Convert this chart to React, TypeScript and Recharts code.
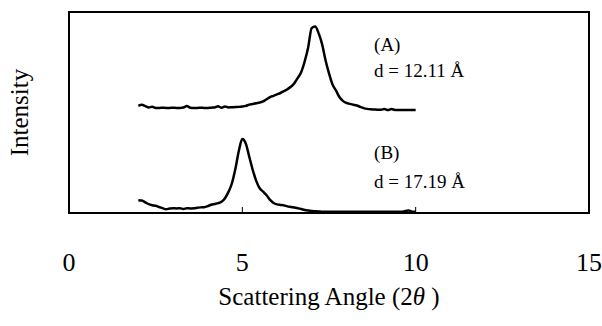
import { LineChart, Line, XAxis, YAxis, ReferenceArea, ReferenceLine, ReferenceDot } from "recharts";

const angles = [
  2.0, 2.1, 2.2, 2.3, 2.4, 2.5, 2.6, 2.7, 2.8, 2.9,
  3.0, 3.1, 3.2, 3.3, 3.4, 3.5, 3.6, 3.7, 3.8, 3.9,
  4.0, 4.1, 4.2, 4.3, 4.4, 4.5, 4.6, 4.7, 4.8, 4.9,
  5.0, 5.1, 5.2, 5.3, 5.4, 5.5, 5.6, 5.7, 5.8, 5.9,
  6.0, 6.1, 6.2, 6.3, 6.4, 6.5, 6.6, 6.7, 6.8, 6.9,
  7.0, 7.1, 7.2, 7.3, 7.4, 7.5, 7.6, 7.7, 7.8, 7.9,
  8.0, 8.1, 8.2, 8.3, 8.4, 8.5, 8.6, 8.7, 8.8, 8.9,
  9.0, 9.1, 9.2, 9.3, 9.4, 9.5, 9.6, 9.7, 9.8, 9.9,
  10.0,
];

// sample A, offset upward
const seriesA = [
  53.3, 53.8, 53.2, 52.5, 52.9, 52.3, 52.3, 52.4, 52.3, 52.3,
  52.4, 52.3, 52.3, 52.5, 53.2, 52.4, 52.3, 52.3, 52.4, 52.3,
  52.3, 52.4, 52.5, 53.1, 52.4, 53.0, 52.5, 52.6, 52.7, 52.8,
  53.0, 53.3, 53.9, 54.2, 54.6, 55.0, 55.5, 56.6, 57.7, 58.3,
  59.0, 59.7, 60.6, 61.6, 62.8, 64.6, 67.2, 70.2, 75.5, 82.5,
  92.0, 92.8, 89.5, 84.0, 76.0, 69.5, 64.0, 61.0, 57.7, 55.8,
  54.8, 54.3, 53.9, 53.5, 52.8, 52.2, 51.8, 51.6, 51.5, 51.4,
  51.4, 51.7, 51.2, 51.7, 51.3, 51.2, 51.2, 51.2, 51.2, 51.2,
  51.2,
];

// sample B
const seriesB = [
  6.4, 6.2, 5.3, 4.4, 3.9, 3.6, 3.0, 2.4, 1.9, 2.2,
  2.4, 2.3, 2.4, 2.0, 2.4, 2.3, 2.4, 2.6, 2.8, 2.9,
  3.4, 4.1, 4.5, 4.9, 5.6, 7.3, 10.5, 14.8, 22.0, 31.0,
  36.8, 34.5, 28.0, 21.4, 16.0, 12.3, 10.6, 8.8, 6.5, 5.0,
  4.3, 4.0, 3.8, 3.3, 3.0, 2.7, 2.4, 2.0, 1.5, 1.2,
  1.0, 0.9, 0.8, 0.6, 0.6, 0.6, 0.6, 0.6, 0.6, 0.6,
  0.6, 0.6, 0.6, 0.6, 0.6, 0.6, 0.6, 0.6, 0.6, 0.6,
  0.6, 0.6, 0.6, 0.6, 0.6, 0.6, 0.6, 1.0, 1.2, 0.6,
  0.6,
];

const xTicks = [0, 5, 10, 15];
const innerTicks = [5, 10];

const notes = [
  { x: 8.8, y: 84, text: "(A)" },
  { x: 8.8, y: 71, text: "d = 12.11 Å" },
  { x: 8.8, y: 30, text: "(B)" },
  { x: 8.8, y: 16, text: "d = 17.19 Å" },
];

const data = angles.map((a, i) => ({ angle: a, A: seriesA[i], B: seriesB[i] }));

const FONT = "'Times New Roman', Times, 'Liberation Serif', serif";

function XTick({ x, payload }: any) {
  return (
    <text x={x} y={271} textAnchor="middle" fontFamily={FONT} fontSize={26} fill="#000">
      {payload.value}
    </text>
  );
}

function XTitle({ viewBox }: any) {
  const cx = viewBox.x + viewBox.width / 2;
  return (
    <text x={cx} y={viewBox.y + 92} textAnchor="middle" fontFamily={FONT} fontSize={25} fill="#000">
      Scattering Angle (2<tspan fontStyle="italic">θ</tspan> )
    </text>
  );
}

function YTitle({ viewBox }: any) {
  const cy = viewBox.y + viewBox.height / 2;
  return (
    <text
      x={28}
      y={cy}
      transform={`rotate(-90, 28, ${cy})`}
      textAnchor="middle"
      fontFamily={FONT}
      fontSize={25}
      fill="#000"
    >
      Intensity
    </text>
  );
}

export default function App() {
  return (
    <div style={{ position: "absolute", left: 0, top: 0, background: "#fff" }}>
      <LineChart width={602} height={326} data={data} margin={{ top: 12, right: 13, left: 0, bottom: 0 }}>
        <XAxis
          dataKey="angle"
          type="number"
          domain={[0, 15]}
          ticks={xTicks}
          height={113}
          axisLine={false}
          tickLine={false}
          tick={<XTick />}
          label={<XTitle />}
        />
        <YAxis
          type="number"
          domain={[0, 100]}
          width={69}
          axisLine={false}
          tickLine={false}
          tick={false}
          label={<YTitle />}
        />
        <ReferenceArea x1={0} x2={15} y1={0} y2={100} stroke="#000" strokeWidth={2} fill="none" fillOpacity={0} />
        {innerTicks.map((t) => (
          <ReferenceLine key={t} segment={[{ x: t, y: 0 }, { x: t, y: 3 }]} stroke="#000" strokeWidth={1} />
        ))}
        <Line dataKey="A" type="monotone" stroke="#000" strokeWidth={2.5} dot={false} isAnimationActive={false} />
        <Line dataKey="B" type="monotone" stroke="#000" strokeWidth={2.5} dot={false} isAnimationActive={false} />
        {notes.map((n) => (
          <ReferenceDot
            key={n.text}
            x={n.x}
            y={n.y}
            r={0}
            fill="none"
            stroke="none"
            label={{ value: n.text, position: "right", offset: 0, fontFamily: FONT, fontSize: 19, fill: "#000" }}
          />
        ))}
      </LineChart>
    </div>
  );
}
